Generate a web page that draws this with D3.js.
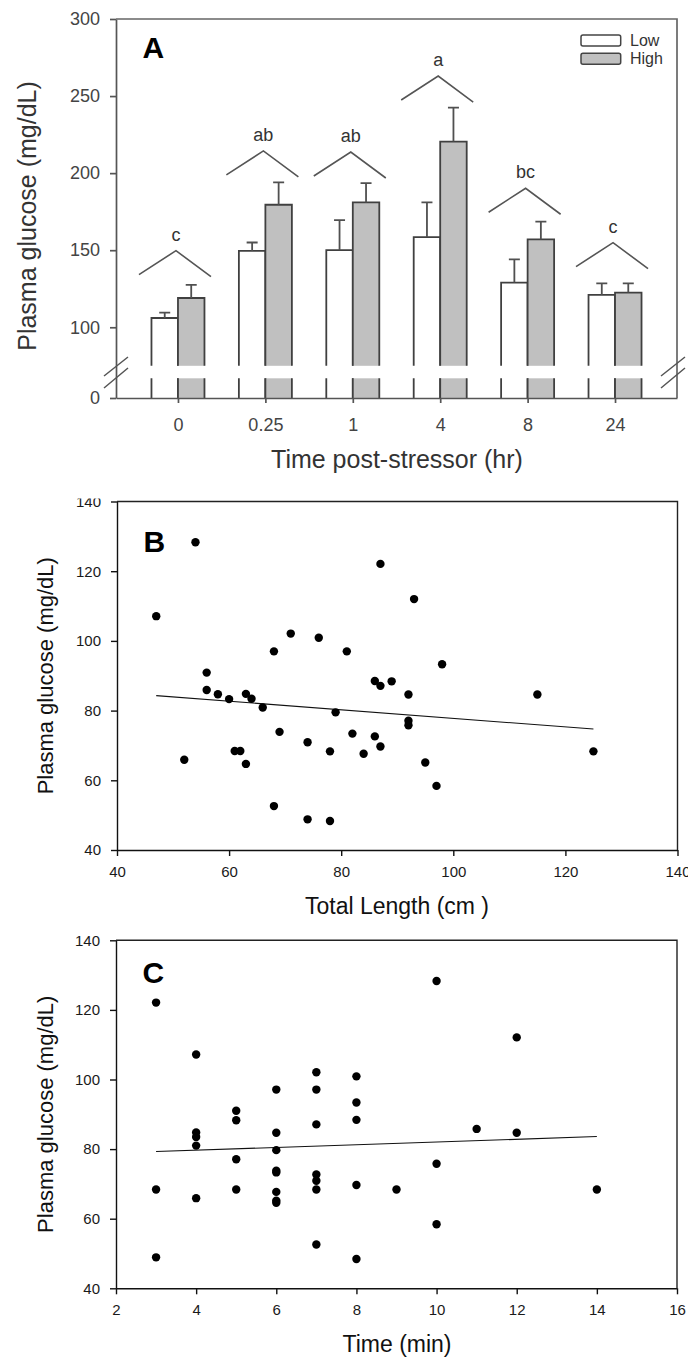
<!DOCTYPE html>
<html>
<head>
<meta charset="utf-8">
<script src="https://cdn.jsdelivr.net/npm/d3@7"></script>
<style>
  body { margin: 0; background: #fff; }
  text { font-family: "Liberation Sans", Arial, sans-serif; }
</style>
</head>
<body>
<script>
// ---- panel A data (mean + SE) ----
var categories = ['0', '0.25', '1', '4', '8', '24'];
var series = ['Low', 'High'];
var lowMean = [106, 149.5, 150, 158.5, 129, 121];
var lowSE = [3.5, 5.5, 19.5, 22.5, 15, 7.5];
var highMean = [119, 179.5, 181, 220.5, 157, 122.5];
var highSE = [8.5, 14.5, 12.5, 22, 11.5, 6];
var groupLetters = ['c', 'ab', 'ab', 'a', 'bc', 'c'];
var letterLevel = [149.7, 214.4, 213.7, 263, 190.2, 154.9];
var yTicksA = [0, 100, 150, 200, 250, 300];

// ---- panel B data ----
var lengthB = [47, 54, 52, 56, 56, 58, 60, 61, 62, 63, 64, 63, 66, 68, 68, 69, 71, 74, 74, 76, 78,
  78, 79, 81, 82, 84, 86, 86, 87, 87, 87, 89, 92, 92, 92, 93, 95, 97, 98, 115, 125];
var glucoseB = [107.1, 128.3, 65.9, 90.9, 85.9, 84.7, 83.3, 68.4, 68.4, 84.8, 83.4, 64.7, 80.9, 97, 52.6,
  73.9, 102.1, 70.9, 48.8, 100.9, 68.3, 48.3, 79.5, 97, 73.4, 67.6, 88.5, 72.6, 87.1, 122.1, 69.7, 88.4,
  84.6, 77.1, 75.8, 112, 65.1, 58.4, 93.3, 84.6, 68.3];
var fitBx = [47, 125];
var fitBy = [84.3, 74.7];
var xTicksB = [40, 60, 80, 100, 120, 140];
var yTicksB = [40, 60, 80, 100, 120, 140];

// ---- panel C data ----
var timeC = [3, 3, 3, 4, 4, 4, 4, 4, 5, 5, 5, 5, 6, 6, 6, 6, 6, 6, 6, 6, 7, 7, 7, 7, 7, 7, 7,
  8, 8, 8, 8, 8, 9, 10, 10, 10, 11, 12, 12, 14];
var glucoseC = [122.1, 68.4, 48.9, 107.2, 84.8, 83.5, 81, 65.9, 91, 88.3, 77.1, 68.4, 97.1, 84.7, 79.7,
  73.8, 73.3, 67.7, 65.2, 64.6, 102.1, 97.1, 87.1, 72.7, 70.9, 68.4, 52.6, 100.9, 93.4, 88.4, 69.7, 48.4,
  68.4, 128.3, 75.8, 58.4, 85.8, 112.1, 84.7, 68.4];
var fitCx = [3, 14];
var fitCy = [79.3, 83.6];
var xTicksC = [2, 4, 6, 8, 10, 12, 14, 16];
var yTicksC = [40, 60, 80, 100, 120, 140];

var svg = d3.select('body').append('svg')
  .attr('width', 688)
  .attr('height', 1357);

// ================= Panel A =================
var gA = svg.append('g');
var xA = d3.scalePoint().domain(categories).range([116, 677]).padding(0.709);
// broken axis: 15..75 collapsed into the gap
var yA = d3.scaleLinear().domain([0, 15, 75, 300]).range([398, 378.3, 365.8, 19]);
var sub = d3.scaleBand().domain(series).range([-26.5, 26.5]);
var bw = sub.bandwidth();

var bars = [];
categories.forEach(function(c, i) {
  bars.push({cat: c, s: 'Low', mean: lowMean[i], se: lowSE[i]});
  bars.push({cat: c, s: 'High', mean: highMean[i], se: highSE[i]});
});
var fillOf = {Low: '#ffffff', High: '#c0c0c0'};
var barStroke = '#404040';

var bg = gA.selectAll('.bar').data(bars).enter().append('g').attr('class', 'bar');
// upper part
bg.append('rect')
  .attr('x', function(d) { return xA(d.cat) + sub(d.s); })
  .attr('y', function(d) { return yA(d.mean); })
  .attr('width', bw)
  .attr('height', function(d) { return yA(75) - yA(d.mean); })
  .attr('fill', function(d) { return fillOf[d.s]; });
bg.append('path')
  .attr('d', function(d) {
    var x = xA(d.cat) + sub(d.s);
    return 'M' + x + ',' + yA(75) + 'V' + yA(d.mean) + 'H' + (x + bw) + 'V' + yA(75);
  })
  .attr('fill', 'none').attr('stroke', barStroke).attr('stroke-width', 1.8);
// lower stub
bg.append('rect')
  .attr('x', function(d) { return xA(d.cat) + sub(d.s); })
  .attr('y', yA(15))
  .attr('width', bw)
  .attr('height', yA(0) - yA(15))
  .attr('fill', function(d) { return fillOf[d.s]; });
bg.append('path')
  .attr('d', function(d) {
    var x = xA(d.cat) + sub(d.s);
    return 'M' + x + ',' + yA(15) + 'V' + yA(0) + 'M' + (x + bw) + ',' + yA(0) + 'V' + yA(15);
  })
  .attr('fill', 'none').attr('stroke', barStroke).attr('stroke-width', 1.8);
// error bars (upper only)
bg.append('path')
  .attr('d', function(d) {
    var cx = xA(d.cat) + sub(d.s) + bw / 2;
    var yt = yA(d.mean + d.se);
    return 'M' + cx + ',' + yA(d.mean) + 'V' + yt + 'M' + (cx - 5.5) + ',' + yt + 'H' + (cx + 5.5);
  })
  .attr('fill', 'none').attr('stroke', '#505050').attr('stroke-width', 1.8);

// brackets + letters
var brk = gA.selectAll('.brk').data(categories).enter().append('g').attr('class', 'brk');
brk.append('path')
  .attr('d', function(c, i) {
    var px = xA(c) - 2, py = yA(letterLevel[i]);
    return 'M' + (px - 37) + ',' + (py + 24) + 'L' + px + ',' + py + 'L' + (px + 35) + ',' + (py + 26);
  })
  .attr('fill', 'none').attr('stroke', '#555').attr('stroke-width', 1.6);
brk.append('text')
  .attr('x', function(c) { return xA(c) - 2; })
  .attr('y', function(c, i) { return yA(letterLevel[i]) - 10; })
  .attr('text-anchor', 'middle')
  .attr('font-size', 18)
  .attr('fill', '#333')
  .text(function(c, i) { return groupLetters[i]; });

// axes A
var axL = gA.append('g').attr('transform', 'translate(116,0)')
  .call(d3.axisLeft(yA).tickValues(yTicksA).tickSize(6).tickSizeOuter(0).tickPadding(10));
var axB = gA.append('g').attr('transform', 'translate(0,398)')
  .call(d3.axisBottom(xA).tickSize(5).tickSizeOuter(0).tickPadding(15));
[axL, axB].forEach(function(a) {
  a.selectAll('path, line').attr('stroke', '#555').attr('stroke-width', 1.7);
  a.selectAll('text').attr('font-size', 18).attr('fill', '#444')
    .attr('font-family', '"Liberation Sans", Arial, sans-serif');
});
gA.append('path')
  .attr('d', 'M116,' + yA(300) + 'H677V398')
  .attr('fill', 'none').attr('stroke', '#666').attr('stroke-width', 1.7);

// axis break marks
var breakX = [116, 673];
breakX.forEach(function(bx) {
  gA.append('path')
    .attr('d', 'M' + (bx - 12) + ',376L' + (bx + 12) + ',357M' + (bx - 12) + ',388L' + (bx + 12) + ',368')
    .attr('fill', 'none').attr('stroke', '#555').attr('stroke-width', 1.5);
});

// legend
var leg = gA.selectAll('.leg').data(series).enter().append('g').attr('class', 'leg')
  .attr('transform', function(d, i) { return 'translate(581,' + (35 + i * 18.3) + ')'; });
leg.append('rect').attr('width', 39.7).attr('height', 11).attr('rx', 2)
  .attr('fill', function(d) { return fillOf[d]; })
  .attr('stroke', '#444').attr('stroke-width', 1.5);
leg.append('text').attr('x', 49).attr('y', 11).attr('font-size', 16).attr('fill', '#333')
  .text(function(d) { return d; });

gA.append('text').attr('x', 142.5).attr('y', 57.7).attr('font-size', 30).attr('font-weight', 'bold')
  .attr('fill', '#000').text('A');
gA.append('text').attr('transform', 'translate(36,216) rotate(-90)').attr('text-anchor', 'middle')
  .attr('font-size', 25).attr('fill', '#333').text('Plasma glucose (mg/dL)');
gA.append('text').attr('x', 397).attr('y', 468).attr('text-anchor', 'middle')
  .attr('font-size', 25).attr('fill', '#333').text('Time post-stressor (hr)');

// ================= Scatter panels B & C =================
function scatter(opt) {
  var g = svg.append('g');
  var x = d3.scaleLinear().domain(opt.xDomain).range(opt.xRange);
  var y = d3.scaleLinear().domain(opt.yDomain).range(opt.yRange);

  var ax = g.append('g').attr('transform', 'translate(0,' + opt.yRange[0] + ')')
    .call(d3.axisBottom(x).tickValues(opt.xTicks).tickSize(6).tickSizeOuter(0).tickPadding(10));
  var ay = g.append('g').attr('transform', 'translate(' + opt.xRange[0] + ',0)')
    .call(d3.axisLeft(y).tickValues(opt.yTicks).tickSize(6).tickSizeOuter(0).tickPadding(10));
  [ax, ay].forEach(function(a) {
    a.selectAll('path, line').attr('stroke', '#111').attr('stroke-width', 1.4);
    a.selectAll('text').attr('font-size', 15).attr('fill', '#1a1a1a')
      .attr('font-family', '"DejaVu Sans", sans-serif');
  });
  g.append('path')
    .attr('d', 'M' + opt.xRange[0] + ',' + opt.yRange[1] + 'H' + opt.xRange[1] + 'V' + opt.yRange[0])
    .attr('fill', 'none').attr('stroke', '#222').attr('stroke-width', 1.4);

  g.append('path')
    .datum(d3.zip(opt.fitX, opt.fitY))
    .attr('d', d3.line().x(function(d) { return x(d[0]); }).y(function(d) { return y(d[1]); }))
    .attr('fill', 'none').attr('stroke', '#111').attr('stroke-width', 1.1);

  g.selectAll('circle').data(d3.zip(opt.xs, opt.ys)).enter().append('circle')
    .attr('cx', function(d) { return x(d[0]); })
    .attr('cy', function(d) { return y(d[1]); })
    .attr('r', 4.2)
    .attr('fill', '#000');

  g.append('text').attr('x', opt.xRange[0] + 26.5).attr('y', opt.letterY)
    .attr('font-size', 30).attr('font-weight', 'bold').attr('fill', '#000').text(opt.letter);
  g.append('text')
    .attr('transform', 'translate(53,' + (opt.yRange[0] + opt.yRange[1]) / 2 + ') rotate(-90)')
    .attr('text-anchor', 'middle').attr('font-size', 22).attr('fill', '#111')
    .text('Plasma glucose (mg/dL)');
  g.append('text').attr('x', 397).attr('y', opt.yRange[0] + 64).attr('text-anchor', 'middle')
    .attr('font-size', 23).attr('fill', '#111').text(opt.xTitle);
  return g;
}

scatter({
  xDomain: [40, 140], xRange: [117, 677.5],
  yDomain: [40, 140], yRange: [850, 501.5],
  xTicks: xTicksB, yTicks: yTicksB,
  xs: lengthB, ys: glucoseB, fitX: fitBx, fitY: fitBy,
  letter: 'B', letterY: 551.7, xTitle: 'Total Length (cm )'
});
// the top of B's "140" is cut off in the source figure
svg.append('rect').attr('x', 0).attr('y', 485).attr('width', 112).attr('height', 13.5).attr('fill', '#fff');

scatter({
  xDomain: [2, 16], xRange: [116, 677],
  yDomain: [40, 140], yRange: [1288.3, 940.3],
  xTicks: xTicksC, yTicks: yTicksC,
  xs: timeC, ys: glucoseC, fitX: fitCx, fitY: fitCy,
  letter: 'C', letterY: 983, xTitle: 'Time (min)'
});
</script>
</body>
</html>
